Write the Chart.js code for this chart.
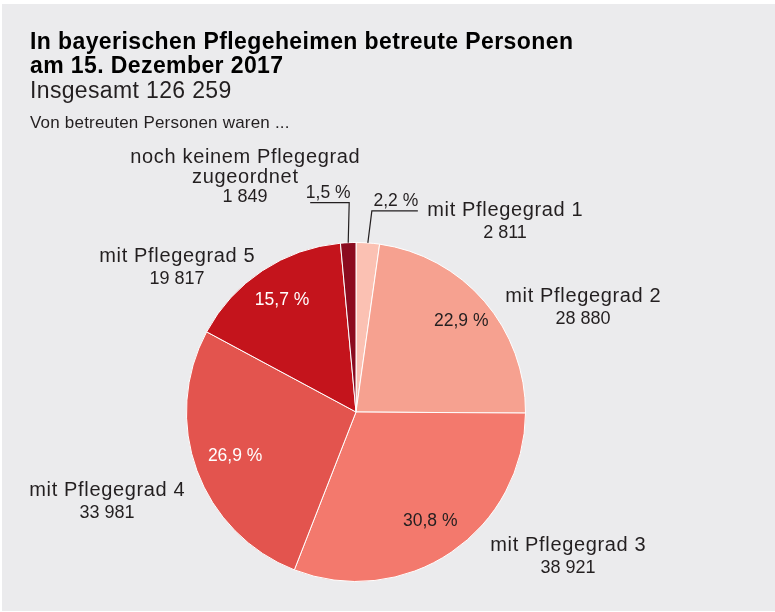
<!DOCTYPE html>
<html lang="de">
<head>
<meta charset="utf-8">
<title>Pflegeheime Bayern 2017</title>
<script src="https://cdn.jsdelivr.net/npm/chart.js@4.4.1/dist/chart.umd.min.js"></script>
<style>
  html, body { margin: 0; padding: 0; background: #fff; }
  canvas { display: block; }
</style>
</head>
<body>
<canvas id="pie" width="775" height="612"></canvas>
<script>
// data
const categories = [
  "mit Pflegegrad 1",
  "mit Pflegegrad 2",
  "mit Pflegegrad 3",
  "mit Pflegegrad 4",
  "mit Pflegegrad 5",
  "noch keinem Pflegegrad zugeordnet",
];
const persons = [2811, 28880, 38921, 33981, 19817, 1849];
const percents = ["2,2 %", "22,9 %", "30,8 %", "26,9 %", "15,7 %", "1,5 %"];
const valueLabels = ["2 811", "28 880", "38 921", "33 981", "19 817", "1 849"];
const nameLines = [
  ["mit Pflegegrad 1"],
  ["mit Pflegegrad 2"],
  ["mit Pflegegrad 3"],
  ["mit Pflegegrad 4"],
  ["mit Pflegegrad 5"],
  ["noch keinem Pflegegrad", "zugeordnet"],
];
const titleLines = ["In bayerischen Pflegeheimen betreute Personen", "am 15. Dezember 2017"];
const subTitle = "Insgesamt 126 259";
const introText = "Von betreuten Personen waren ...";

// styles
const sliceColors = ["#fbc1b3", "#f6a190", "#f3796d", "#e3544e", "#c4141c", "#8b0b1f"];
const pctColors = ["#231f20", "#231f20", "#231f20", "#ffffff", "#ffffff", "#231f20"];
const FONT = '"Liberation Sans", Arial, Helvetica, sans-serif';
const TEXT = "#231f20";

// name label placement, offset from pie center
const namePos = [
  { dx: 149, dy: -202 },
  { dx: 227, dy: -116 },
  { dx: 212, dy: 133 },
  { dx: -249, dy: 78 },
  { dx: -179, dy: -156 },
  { dx: -111, dy: -255 },
];
// inside percent label radius factor (null = callout)
const pctRadius = [null, 0.82, 0.78, 0.76, 0.79, null];
// callouts for thin slices: leader line up, then sideways
const callouts = {
  0: { kx: 4, up: 32, side: 46, tx: 24, ty: -10 },
  5: { kx: 1, up: 40, side: -39, tx: -21, ty: -10 },
};

function spaced(ctx, px) {
  if ("letterSpacing" in ctx) ctx.letterSpacing = px + "px";
}

const textPlugin = {
  id: "texts",
  beforeDraw(chart) {
    const ctx = chart.ctx;
    ctx.save();
    ctx.fillStyle = "#ebebed";
    ctx.fillRect(2, 4, chart.width - 2, chart.height - 5);
    ctx.restore();
  },
  afterDraw(chart) {
    const ctx = chart.ctx;
    ctx.save();
    ctx.fillStyle = "#000";
    ctx.textAlign = "left";
    ctx.textBaseline = "alphabetic";
    ctx.font = "bold 23px " + FONT;
    spaced(ctx, 0.4);
    ctx.fillText(titleLines[0], 30, 49);
    ctx.fillText(titleLines[1], 30, 73);
    ctx.fillStyle = TEXT;
    ctx.font = "23px " + FONT;
    spaced(ctx, 0.35);
    ctx.fillText(subTitle, 30, 98);
    ctx.font = "17px " + FONT;
    spaced(ctx, 0.2);
    ctx.fillText(introText, 30, 128);

    const arcs = chart.getDatasetMeta(0).data;
    arcs.forEach((arc, i) => {
      const p = arc.getProps(["x", "y", "startAngle", "endAngle", "outerRadius"], true);
      const mid = (p.startAngle + p.endAngle) / 2;
      ctx.textAlign = "center";
      ctx.textBaseline = "middle";

      // names + values
      ctx.fillStyle = TEXT;
      const cx = p.x + namePos[i].dx;
      const lines = nameLines[i].concat([valueLabels[i]]);
      const step = lines.length > 2 ? 20 : 23;
      lines.forEach((ln, k) => {
        const isValue = k === lines.length - 1;
        ctx.font = (isValue ? "18px " : "20px ") + FONT;
        spaced(ctx, isValue ? 0 : 0.65);
        ctx.fillText(ln, cx + (isValue ? 0 : 0.3), p.y + namePos[i].dy + k * step);
      });

      // percents
      ctx.font = "17.5px " + FONT;
      spaced(ctx, 0);
      if (pctRadius[i] !== null) {
        const r = p.outerRadius * pctRadius[i];
        ctx.fillStyle = pctColors[i];
        ctx.fillText(percents[i], p.x + Math.cos(mid) * r, p.y + Math.sin(mid) * r);
      } else {
        const c = callouts[i];
        const ex = p.x + Math.cos(mid) * p.outerRadius;
        const ey = p.y + Math.sin(mid) * p.outerRadius;
        const topX = ex + c.kx;
        const topY = ey - c.up;
        ctx.strokeStyle = "#231f20";
        ctx.lineWidth = 1.2;
        ctx.beginPath();
        ctx.moveTo(ex, ey);
        ctx.lineTo(topX, topY);
        ctx.lineTo(topX + c.side, topY);
        ctx.stroke();
        ctx.fillStyle = TEXT;
        ctx.fillText(percents[i], topX + c.tx, topY + c.ty);
      }
    });
    ctx.restore();
  },
};

new Chart(document.getElementById("pie"), {
  type: "pie",
  data: {
    labels: categories,
    datasets: [
      {
        data: persons,
        backgroundColor: sliceColors,
        borderColor: "#ffffff",
        borderWidth: 1,
        hoverOffset: 0,
      },
    ],
  },
  options: {
    responsive: false,
    devicePixelRatio: 1,
    animation: false,
    layout: { padding: { left: 186, right: 249, top: 242, bottom: 30 } },
    plugins: {
      legend: { display: false },
      tooltip: { enabled: false },
    },
    events: [],
  },
  plugins: [textPlugin],
});
</script>
</body>
</html>
